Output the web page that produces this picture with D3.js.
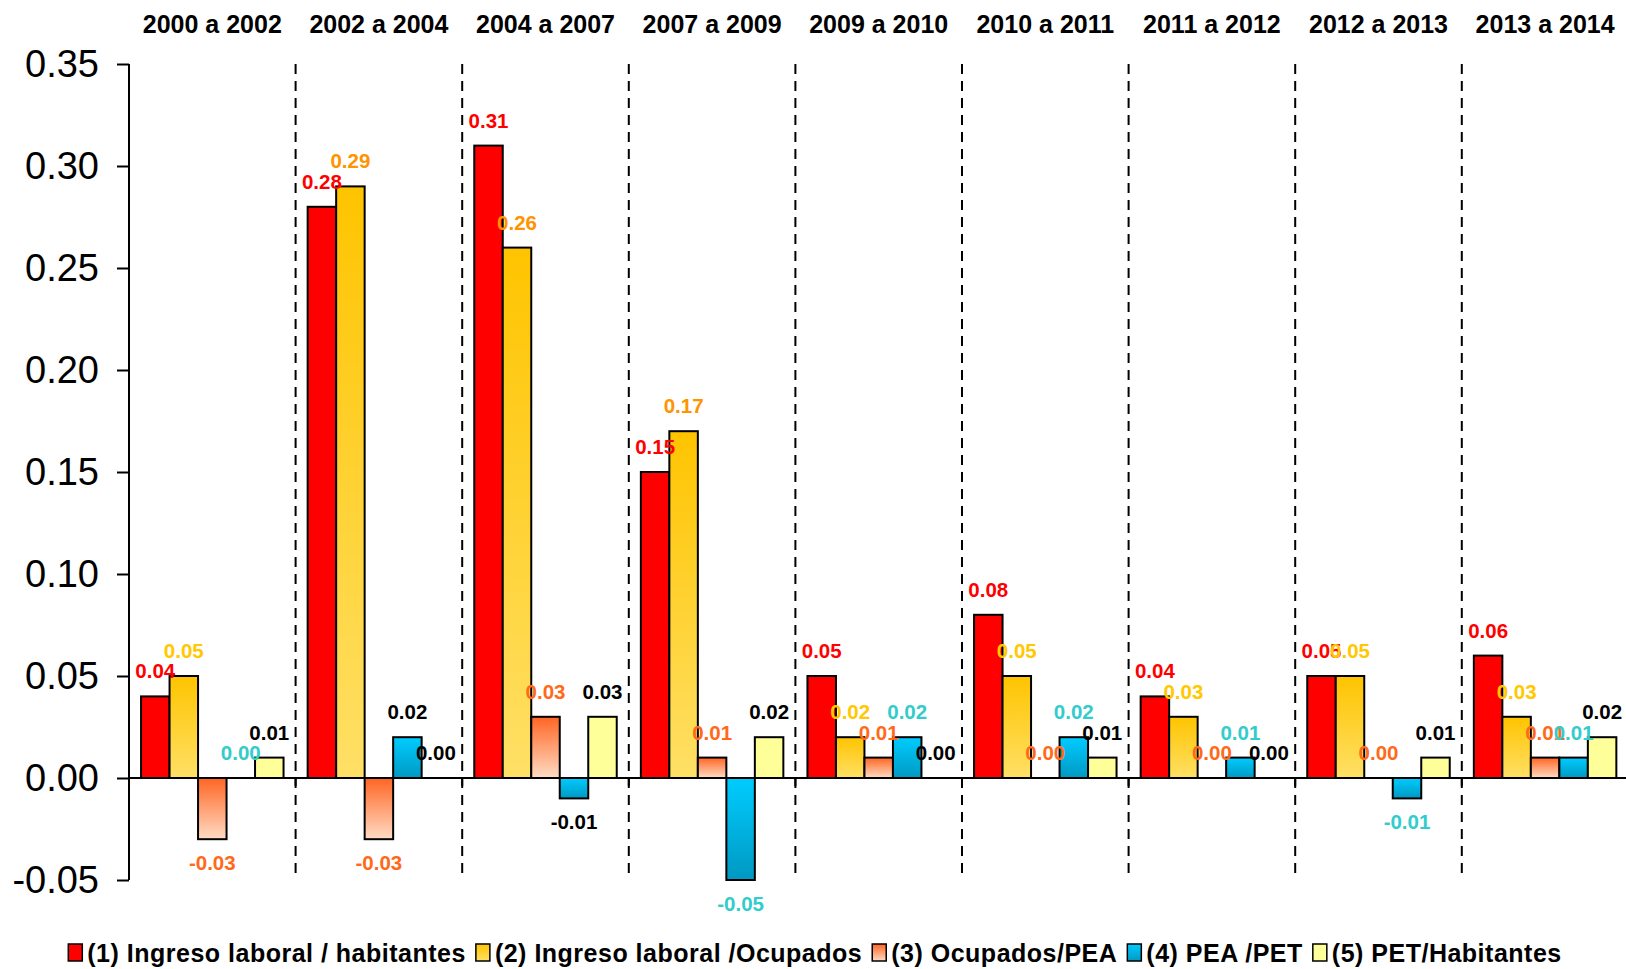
<!DOCTYPE html>
<html>
<head>
<meta charset="utf-8">
<script src="https://cdn.jsdelivr.net/npm/d3@7"></script>
<style>
  body { margin: 0; background: #ffffff; }
  svg { display: block; font-family: "Liberation Sans", Arial, sans-serif; }
</style>
</head>
<body>
<div id="chart"></div>
<script>
// periods on the x axis
var periods = ["2000 a 2002", "2002 a 2004", "2004 a 2007", "2007 a 2009", "2009 a 2010",
               "2010 a 2011", "2011 a 2012", "2012 a 2013", "2013 a 2014"];

var seriesNames = ["(1) Ingreso laboral / habitantes", "(2) Ingreso laboral /Ocupados",
                   "(3) Ocupados/PEA", "(4) PEA /PET", "(5) PET/Habitantes"];

// one value per period for every series
var ingresoHab = [0.04, 0.28, 0.31, 0.15, 0.05, 0.08, 0.04, 0.05, 0.06];
var ingresoOcup = [0.05, 0.29, 0.26, 0.17, 0.02, 0.05, 0.03, 0.05, 0.03];
var ocupPea = [-0.03, -0.03, 0.03, 0.01, 0.01, 0.00, 0.00, 0.00, 0.01];
var peaPet = [0.00, 0.02, -0.01, -0.05, 0.02, 0.02, 0.01, -0.01, 0.01];
var petHab = [0.01, 0.00, 0.03, 0.02, 0.00, 0.01, 0.00, 0.01, 0.02];

var yTicks = [-0.05, 0.00, 0.05, 0.10, 0.15, 0.20, 0.25, 0.30, 0.35];

var allSeries = [ingresoHab, ingresoOcup, ocupPea, peaPet, petHab];

// styling (not data)
var gradStops = [
  ["#ff0000", "#ff0000"],
  ["#ffc400", "#ffe066"],
  ["#ff6524", "#ffdcc4"],
  ["#00ccff", "#0099c2"],
  ["#ffff99", "#ffff99"]
];
var orange = "#ff9300", gold = "#ffc800", cyan = "#33cccc";
var labelColors = [
  d3.range(9).map(() => "#ff0000"),
  [gold, orange, orange, orange, gold, gold, gold, gold, gold],
  d3.range(9).map(() => "#ff6a1a"),
  [cyan, "#000", "#000", cyan, cyan, cyan, cyan, cyan, cyan],
  d3.range(9).map(() => "#000")
];

// plain hyphen for negatives, like the original
var fmt = d3.formatLocale({ decimal: ".", thousands: ",", grouping: [3], currency: ["", ""], minus: "-" }).format(".2f");

var W = 1626, H = 969;
var plotLeft = 129, groupW = 166.6;
var plotTop = 64, plotBottom = 880;

var svg = d3.select("#chart").append("svg")
  .attr("width", W).attr("height", H);

var defs = svg.append("defs");
gradStops.forEach(function (s, i) {
  var g = defs.append("linearGradient").attr("id", "grad" + i)
    .attr("x1", 0).attr("y1", 0).attr("x2", 0).attr("y2", 1);
  g.append("stop").attr("offset", "0%").attr("stop-color", s[0]);
  g.append("stop").attr("offset", "100%").attr("stop-color", s[1]);
});

var x = d3.scaleBand().domain(periods).range([plotLeft, plotLeft + groupW * periods.length]);
var xs = d3.scaleBand().domain(d3.range(5)).range([0, x.bandwidth()])
  .paddingInner(0).paddingOuter(0.423);
var y = d3.scaleLinear().domain([-0.05, 0.35]).range([plotBottom, plotTop]);

// dashed separators between periods
svg.append("g").selectAll("line")
  .data(periods.slice(1))
  .enter().append("line")
  .attr("x1", d => x(d)).attr("x2", d => x(d))
  .attr("y1", plotTop).attr("y2", plotBottom)
  .attr("stroke", "#000").attr("stroke-width", 2)
  .attr("stroke-dasharray", "10,7");

// period titles
svg.append("g").selectAll("text")
  .data(periods)
  .enter().append("text")
  .attr("x", d => x(d) + x.bandwidth() / 2)
  .attr("y", 33)
  .attr("text-anchor", "middle")
  .style("font-size", "25px").style("font-weight", "bold")
  .text(d => d);

// bars
allSeries.forEach(function (vals, s) {
  svg.append("g").selectAll("rect")
    .data(vals)
    .enter().append("rect")
    .attr("x", (d, i) => x(periods[i]) + xs(s))
    .attr("width", xs.bandwidth())
    .attr("y", d => y(Math.max(d, 0)))
    .attr("height", d => Math.abs(y(d) - y(0)))
    .attr("fill", "url(#grad" + s + ")")
    .attr("stroke", "#000").attr("stroke-width", 2)
    .style("display", d => d === 0 ? "none" : null);
});

// zero line with small ticks at the period boundaries
svg.append("line")
  .attr("x1", plotLeft).attr("x2", W)
  .attr("y1", y(0)).attr("y2", y(0))
  .attr("stroke", "#000").attr("stroke-width", 2);
svg.append("g").selectAll("line")
  .data(periods.slice(1))
  .enter().append("line")
  .attr("x1", d => x(d)).attr("x2", d => x(d))
  .attr("y1", y(0)).attr("y2", y(0) + 8)
  .attr("stroke", "#000").attr("stroke-width", 2);

// value labels
allSeries.forEach(function (vals, s) {
  svg.append("g").selectAll("text")
    .data(vals)
    .enter().append("text")
    .attr("x", (d, i) => x(periods[i]) + xs(s) + xs.bandwidth() / 2)
    .attr("y", d => d < 0 ? y(d) + 31 : y(d) - 18)
    .attr("text-anchor", "middle")
    .attr("fill", (d, i) => labelColors[s][i])
    .style("font-size", "20.5px").style("font-weight", "bold")
    .text(d => fmt(d));
});

// y axis
var yAxis = d3.axisLeft(y).tickValues(yTicks)
  .tickFormat(fmt).tickSize(12).tickPadding(18);
var gy = svg.append("g").attr("transform", "translate(" + plotLeft + ",0)").call(yAxis);
gy.select(".domain").attr("stroke-width", 2).attr("d", "M0," + plotTop + "V" + plotBottom);
gy.selectAll(".tick line").attr("stroke-width", 2);
gy.selectAll("text").style("font-size", "38px")
  .style("font-family", "'Liberation Sans', Arial, sans-serif").attr("fill", "#000");

// legend
var legend = svg.append("g");
var items = legend.selectAll("g").data(seriesNames).enter().append("g");
items.append("rect")
  .attr("width", 14).attr("height", 17).attr("y", -18)
  .attr("fill", (d, i) => "url(#grad" + i + ")")
  .attr("stroke", "#000").attr("stroke-width", 1.5);
items.append("text")
  .attr("x", 19).attr("y", 0)
  .style("font-size", "25px").style("font-weight", "bold")
  .style("letter-spacing", "0.5px")
  .text(d => d);
var cx = 0;
items.each(function () {
  var tw = d3.select(this).select("text").node().getComputedTextLength();
  d3.select(this).attr("transform", "translate(" + cx + ",0)");
  cx += 19 + tw + 10;
});
var legW = cx - 10;
legend.attr("transform", "translate(" + (815 - legW / 2) + ",962)");
</script>
</body>
</html>
